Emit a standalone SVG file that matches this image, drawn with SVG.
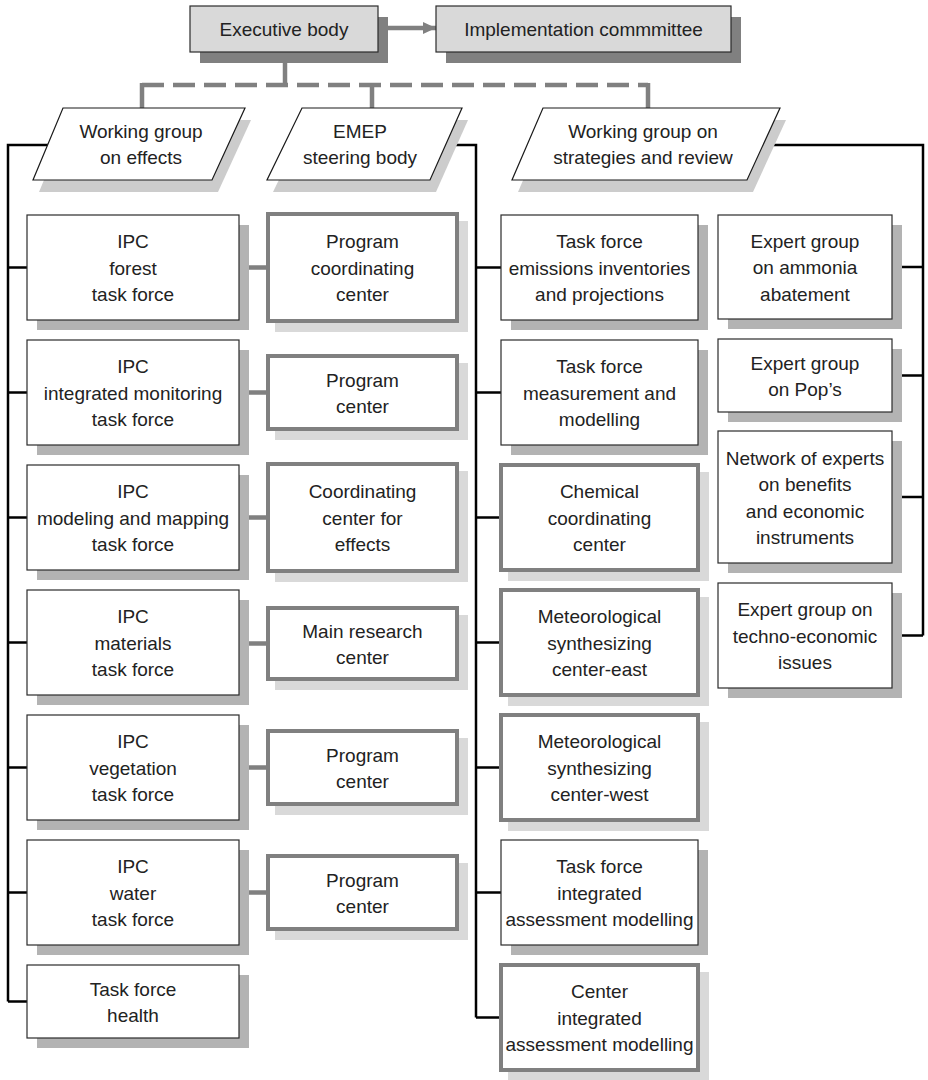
<svg xmlns="http://www.w3.org/2000/svg" width="928" height="1080" viewBox="0 0 928 1080">
  <style>
    .box { fill: #ffffff; stroke: #2b2b2b; stroke-width: 1.2; }
    .gbox { fill: #ffffff; stroke: #808080; stroke-width: 4; }
    .top { fill: #d9d9d9; stroke: #2b2b2b; stroke-width: 1.2; }
    .para { fill: #ffffff; stroke: #1a1a1a; stroke-width: 1.2; }
    .sh-dark { fill: #b3b3b3; }
    .sh-light { fill: #d9d9d9; }
    .sh-top { fill: #808080; }
    .sh-para { fill: #cccccc; }
    .lbl { font-family: "Liberation Sans", Arial, sans-serif; font-size: 19px; fill: #222222; text-anchor: middle; }
    .conn { stroke: #000000; stroke-width: 2.5; fill: none; }
    .gconn { stroke: #808080; stroke-width: 4.5; fill: none; }
    .dash { stroke: #808080; stroke-width: 4.5; fill: none; stroke-dasharray: 22 9; }
  </style>
  <defs>
    <marker id="arrow" markerUnits="userSpaceOnUse" markerWidth="13" markerHeight="12" refX="13" refY="6" orient="auto">
      <path d="M0,0 L13,6 L0,12 z" fill="#808080"/>
    </marker>
  </defs>

  <rect width="928" height="1080" fill="#ffffff"/>

  <!-- connectors -->
  <g id="connectors">
    <!-- executive level -->
    <path class="gconn" d="M388,28 H436" marker-end="url(#arrow)"/>
    <path class="gconn" d="M285,63 V85"/>
    <path class="dash" d="M142,85 H648"/>
    <path class="gconn" d="M142,83 V108 M372,85 V108 M648,83 V108"/>
    <!-- working group on effects -->
    <path class="conn" d="M48,145 H8 V1001.5"/>
    <path class="conn" d="M8,267.5 H27 M8,392.5 H27 M8,517.5 H27 M8,642.5 H27 M8,767.5 H27 M8,892.5 H27 M8,1001.5 H27"/>
    <!-- EMEP steering body -->
    <path class="conn" d="M446,145 H476 V1017.5"/>
    <path class="conn" d="M476,267.5 H501 M476,392.5 H501 M476,517.5 H501 M476,642.5 H501 M476,767.5 H501 M476,892.5 H501 M476,1017.5 H501"/>
    <!-- working group on strategies and review -->
    <path class="conn" d="M763,145 H923 V635.5"/>
    <path class="conn" d="M892,267 H923 M892,375.5 H923 M892,497 H923 M892,635.5 H923"/>
    <!-- task forces to their centres -->
    <path class="gconn" d="M239,267.5 H266 M239,392.5 H266 M239,517.5 H266 M239,643.5 H266 M239,767.5 H266 M239,892.5 H266"/>
  </g>

  <!-- top level -->
  <g id="executive-body">
    <rect class="sh-top" x="200" y="17" width="188" height="46"/>
    <rect class="top" x="190" y="6" width="188" height="46"/>
    <text class="lbl" x="284" y="36">Executive body</text>
  </g>
  <g id="implementation-committee">
    <rect class="sh-top" x="446" y="17" width="295" height="46"/>
    <rect class="top" x="436" y="6" width="295" height="46"/>
    <text class="lbl" x="583.5" y="36">Implementation commmittee</text>
  </g>

  <!-- working groups -->
  <g id="wg-effects">
    <polygon class="sh-para" points="69,120 251,120 218,192 39,192"/>
    <polygon class="para" points="63,108 245,108 212,180 33,180"/>
    <text class="lbl" x="141" y="138">Working group</text>
    <text class="lbl" x="141" y="164">on effects</text>
  </g>
  <g id="emep-steering-body">
    <polygon class="sh-para" points="308,120 468,120 436,192 273,192"/>
    <polygon class="para" points="302,108 462,108 430,180 267,180"/>
    <text class="lbl" x="360" y="138">EMEP</text>
    <text class="lbl" x="360" y="164">steering body</text>
  </g>
  <g id="wg-strategies">
    <polygon class="sh-para" points="549,120 786,120 753,192 518,192"/>
    <polygon class="para" points="543,108 780,108 747,180 512,180"/>
    <text class="lbl" x="643" y="138">Working group on</text>
    <text class="lbl" x="643" y="164">strategies and review</text>
  </g>

  <!-- effects task forces -->
  <g id="ipc-forest">
    <rect class="sh-dark" x="37" y="225" width="212" height="105"/>
    <rect class="box" x="27" y="215" width="212" height="105"/>
    <text class="lbl" x="133" y="248">IPC</text>
    <text class="lbl" x="133" y="274.5">forest</text>
    <text class="lbl" x="133" y="301">task force</text>
  </g>
  <g id="ipc-monitoring">
    <rect class="sh-dark" x="37" y="350" width="212" height="105"/>
    <rect class="box" x="27" y="340" width="212" height="105"/>
    <text class="lbl" x="133" y="373">IPC</text>
    <text class="lbl" x="133" y="399.5">integrated monitoring</text>
    <text class="lbl" x="133" y="426">task force</text>
  </g>
  <g id="ipc-mapping">
    <rect class="sh-dark" x="37" y="475" width="212" height="105"/>
    <rect class="box" x="27" y="465" width="212" height="105"/>
    <text class="lbl" x="133" y="498">IPC</text>
    <text class="lbl" x="133" y="524.5">modeling and mapping</text>
    <text class="lbl" x="133" y="551">task force</text>
  </g>
  <g id="ipc-materials">
    <rect class="sh-dark" x="37" y="600" width="212" height="105"/>
    <rect class="box" x="27" y="590" width="212" height="105"/>
    <text class="lbl" x="133" y="623">IPC</text>
    <text class="lbl" x="133" y="649.5">materials</text>
    <text class="lbl" x="133" y="676">task force</text>
  </g>
  <g id="ipc-vegetation">
    <rect class="sh-dark" x="37" y="725" width="212" height="105"/>
    <rect class="box" x="27" y="715" width="212" height="105"/>
    <text class="lbl" x="133" y="748">IPC</text>
    <text class="lbl" x="133" y="774.5">vegetation</text>
    <text class="lbl" x="133" y="801">task force</text>
  </g>
  <g id="ipc-water">
    <rect class="sh-dark" x="37" y="850" width="212" height="105"/>
    <rect class="box" x="27" y="840" width="212" height="105"/>
    <text class="lbl" x="133" y="873">IPC</text>
    <text class="lbl" x="133" y="899.5">water</text>
    <text class="lbl" x="133" y="926">task force</text>
  </g>
  <g id="tf-health">
    <rect class="sh-dark" x="37" y="975" width="212" height="73"/>
    <rect class="box" x="27" y="965" width="212" height="73"/>
    <text class="lbl" x="133" y="995.5">Task force</text>
    <text class="lbl" x="133" y="1022">health</text>
  </g>

  <!-- programme centres -->
  <g id="pc-forest">
    <rect class="sh-light" x="275" y="221" width="193" height="111"/>
    <rect class="gbox" x="268" y="214" width="189" height="107"/>
    <text class="lbl" x="362.5" y="248">Program</text>
    <text class="lbl" x="362.5" y="274.5">coordinating</text>
    <text class="lbl" x="362.5" y="301">center</text>
  </g>
  <g id="pc-monitoring">
    <rect class="sh-light" x="275" y="363" width="193" height="77"/>
    <rect class="gbox" x="268" y="356" width="189" height="73"/>
    <text class="lbl" x="362.5" y="386.5">Program</text>
    <text class="lbl" x="362.5" y="413">center</text>
  </g>
  <g id="cc-effects">
    <rect class="sh-light" x="275" y="471" width="193" height="111"/>
    <rect class="gbox" x="268" y="464" width="189" height="107"/>
    <text class="lbl" x="362.5" y="498">Coordinating</text>
    <text class="lbl" x="362.5" y="524.5">center for</text>
    <text class="lbl" x="362.5" y="551">effects</text>
  </g>
  <g id="main-research-center">
    <rect class="sh-light" x="275" y="615" width="193" height="75"/>
    <rect class="gbox" x="268" y="608" width="189" height="71"/>
    <text class="lbl" x="362.5" y="637.5">Main research</text>
    <text class="lbl" x="362.5" y="664">center</text>
  </g>
  <g id="pc-vegetation">
    <rect class="sh-light" x="275" y="738" width="193" height="77"/>
    <rect class="gbox" x="268" y="731" width="189" height="73"/>
    <text class="lbl" x="362.5" y="761.5">Program</text>
    <text class="lbl" x="362.5" y="788">center</text>
  </g>
  <g id="pc-water">
    <rect class="sh-light" x="275" y="863" width="193" height="77"/>
    <rect class="gbox" x="268" y="856" width="189" height="73"/>
    <text class="lbl" x="362.5" y="886.5">Program</text>
    <text class="lbl" x="362.5" y="913">center</text>
  </g>

  <!-- EMEP bodies -->
  <g id="tf-emissions">
    <rect class="sh-dark" x="511" y="225" width="197" height="105"/>
    <rect class="box" x="501" y="215" width="197" height="105"/>
    <text class="lbl" x="599.5" y="248">Task force</text>
    <text class="lbl" x="599.5" y="274.5">emissions inventories</text>
    <text class="lbl" x="599.5" y="301">and projections</text>
  </g>
  <g id="tf-measurement">
    <rect class="sh-dark" x="511" y="350" width="197" height="105"/>
    <rect class="box" x="501" y="340" width="197" height="105"/>
    <text class="lbl" x="599.5" y="373">Task force</text>
    <text class="lbl" x="599.5" y="399.5">measurement and</text>
    <text class="lbl" x="599.5" y="426">modelling</text>
  </g>
  <g id="chemical-cc">
    <rect class="sh-light" x="508" y="472" width="201" height="109"/>
    <rect class="gbox" x="501" y="465" width="197" height="105"/>
    <text class="lbl" x="599.5" y="498">Chemical</text>
    <text class="lbl" x="599.5" y="524.5">coordinating</text>
    <text class="lbl" x="599.5" y="551">center</text>
  </g>
  <g id="msc-east">
    <rect class="sh-light" x="508" y="597" width="201" height="109"/>
    <rect class="gbox" x="501" y="590" width="197" height="105"/>
    <text class="lbl" x="599.5" y="623">Meteorological</text>
    <text class="lbl" x="599.5" y="649.5">synthesizing</text>
    <text class="lbl" x="599.5" y="676">center-east</text>
  </g>
  <g id="msc-west">
    <rect class="sh-light" x="508" y="722" width="201" height="109"/>
    <rect class="gbox" x="501" y="715" width="197" height="105"/>
    <text class="lbl" x="599.5" y="748">Meteorological</text>
    <text class="lbl" x="599.5" y="774.5">synthesizing</text>
    <text class="lbl" x="599.5" y="801">center-west</text>
  </g>
  <g id="tf-iam">
    <rect class="sh-dark" x="511" y="850" width="197" height="105"/>
    <rect class="box" x="501" y="840" width="197" height="105"/>
    <text class="lbl" x="599.5" y="873">Task force</text>
    <text class="lbl" x="599.5" y="899.5">integrated</text>
    <text class="lbl" x="599.5" y="926">assessment modelling</text>
  </g>
  <g id="center-iam">
    <rect class="sh-light" x="508" y="972" width="201" height="109"/>
    <rect class="gbox" x="501" y="965" width="197" height="105"/>
    <text class="lbl" x="599.5" y="998">Center</text>
    <text class="lbl" x="599.5" y="1024.5">integrated</text>
    <text class="lbl" x="599.5" y="1051">assessment modelling</text>
  </g>

  <!-- expert groups -->
  <g id="eg-ammonia">
    <rect class="sh-dark" x="728" y="225" width="174" height="104"/>
    <rect class="box" x="718" y="215" width="174" height="104"/>
    <text class="lbl" x="805" y="247.5">Expert group</text>
    <text class="lbl" x="805" y="274">on ammonia</text>
    <text class="lbl" x="805" y="300.5">abatement</text>
  </g>
  <g id="eg-pops">
    <rect class="sh-dark" x="728" y="349" width="174" height="73"/>
    <rect class="box" x="718" y="339" width="174" height="73"/>
    <text class="lbl" x="805" y="369.5">Expert group</text>
    <text class="lbl" x="805" y="396">on Pop’s</text>
  </g>
  <g id="network-experts">
    <rect class="sh-dark" x="728" y="441" width="174" height="132"/>
    <rect class="box" x="718" y="431" width="174" height="132"/>
    <text class="lbl" x="805" y="464.5">Network of experts</text>
    <text class="lbl" x="805" y="491">on benefits</text>
    <text class="lbl" x="805" y="517.5">and economic</text>
    <text class="lbl" x="805" y="544">instruments</text>
  </g>
  <g id="eg-techno-economic">
    <rect class="sh-dark" x="728" y="593" width="174" height="105"/>
    <rect class="box" x="718" y="583" width="174" height="105"/>
    <text class="lbl" x="805" y="616">Expert group on</text>
    <text class="lbl" x="805" y="642.5">techno-economic</text>
    <text class="lbl" x="805" y="669">issues</text>
  </g>
</svg>
